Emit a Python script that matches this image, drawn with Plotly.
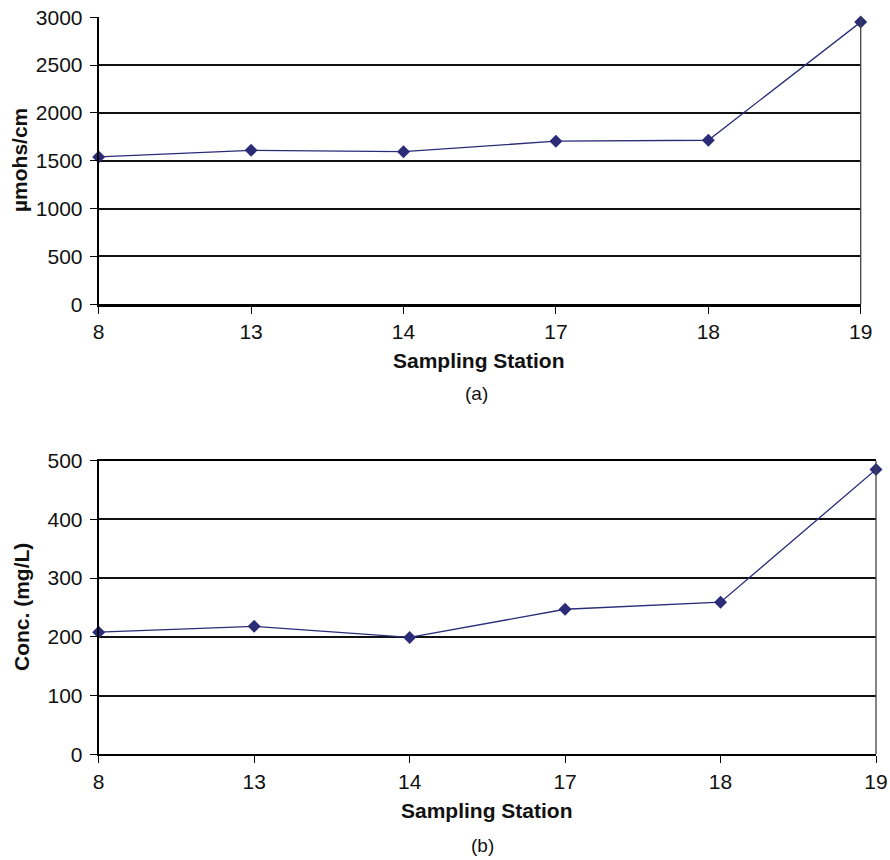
import plotly.graph_objects as go

# Sampling stations along the stream
stations = ["8", "13", "14", "17", "18", "19"]
# (a) specific conductance, µmohs/cm
conductance = [1540, 1610, 1595, 1705, 1715, 2950]
# (b) concentration, mg/L
concentration = [208, 218, 199, 247, 259, 485]

cond_ticks = [0, 500, 1000, 1500, 2000, 2500, 3000]
conc_ticks = [0, 100, 200, 300, 400, 500]

LINE_COLOR = "#2a2c78"
FONT = "Liberation Sans, Arial, Helvetica, sans-serif"
W, H = 890, 860

pos = list(range(len(stations)))

fig = go.Figure()

fig.add_trace(go.Scatter(
    x=pos, y=conductance, xaxis="x", yaxis="y",
    mode="lines+markers", cliponaxis=False,
    line=dict(color=LINE_COLOR, width=1.3),
    marker=dict(symbol="diamond", size=10, color=LINE_COLOR),
    showlegend=False, hoverinfo="x+y",
))
fig.add_trace(go.Scatter(
    x=pos, y=concentration, xaxis="x2", yaxis="y2",
    mode="lines+markers", cliponaxis=False,
    line=dict(color=LINE_COLOR, width=1.3),
    marker=dict(symbol="diamond", size=10, color=LINE_COLOR),
    showlegend=False, hoverinfo="x+y",
))

# plot-area boundaries in pixels
top_x = (98.7, 860.7)
top_y = (17.3, 304.3)
bot_x = (98.7, 876.0)
bot_y = (460.7, 754.3)


def xdom(px):
    return [px[0] / W, px[1] / W]


def ydom(py):
    return [1 - py[1] / H, 1 - py[0] / H]


tick_font = dict(family=FONT, size=21, color="#111111")

xcommon = dict(
    range=[0, len(stations) - 1], tickmode="array", tickvals=pos, ticktext=stations,
    showgrid=False, zeroline=False, showline=True, linecolor="#000000",
    ticks="outside", ticklen=7, tickwidth=1, tickcolor="#000000",
    tickfont=tick_font, fixedrange=True, automargin=False,
)
ycommon = dict(
    showgrid=True, gridcolor="#111111", gridwidth=1.5, zeroline=False,
    showline=True, linecolor="#000000", linewidth=2,
    ticks="outside", ticklen=7, tickwidth=1, tickcolor="#000000",
    tickfont=tick_font, fixedrange=True, automargin=False, ticklabelstandoff=3,
)

fig.update_layout(
    width=W, height=H,
    margin=dict(l=0, r=0, t=0, b=0, pad=0, autoexpand=False),
    paper_bgcolor="white", plot_bgcolor="white",
    font=dict(family=FONT, color="#111111"),
    xaxis=dict(domain=xdom(top_x), anchor="y", linewidth=2.5, mirror=False, **xcommon),
    yaxis=dict(domain=ydom(top_y), anchor="x", range=[0, 3000],
               tickvals=cond_ticks, **ycommon),
    xaxis2=dict(domain=xdom(bot_x), anchor="y2", linewidth=2, mirror=True, **xcommon),
    yaxis2=dict(domain=ydom(bot_y), anchor="x2", range=[0, 500],
                tickvals=conc_ticks, **ycommon),
)

# right-hand frame edge of each panel
for xr, yr in (("x domain", "y domain"), ("x2 domain", "y2 domain")):
    fig.add_shape(type="line", xref=xr, yref=yr, x0=1, x1=1, y0=0, y1=1,
                  line=dict(color="#444444", width=1.3), layer="above")


def label(text, x, y, size=21, bold=False, angle=0):
    t = f"<b>{text}</b>" if bold else text
    fig.add_annotation(
        text=t, x=x / W, y=1 - y / H, xref="paper", yref="paper",
        showarrow=False, xanchor="center", yanchor="middle", textangle=angle,
        font=dict(family=FONT, size=size, color="#111111"),
    )


label("Sampling Station", 479, 360, size=21, bold=True)
label("(a)", 476, 393, size=19)
label("µmohs/cm", 19, 160, size=21, bold=True, angle=-90)

label("Sampling Station", 487, 810, size=21, bold=True)
label("(b)", 482, 845, size=19)
label("Conc. (mg/L)", 21, 607, size=21, bold=True, angle=-90)

fig.write_html("out.html")
